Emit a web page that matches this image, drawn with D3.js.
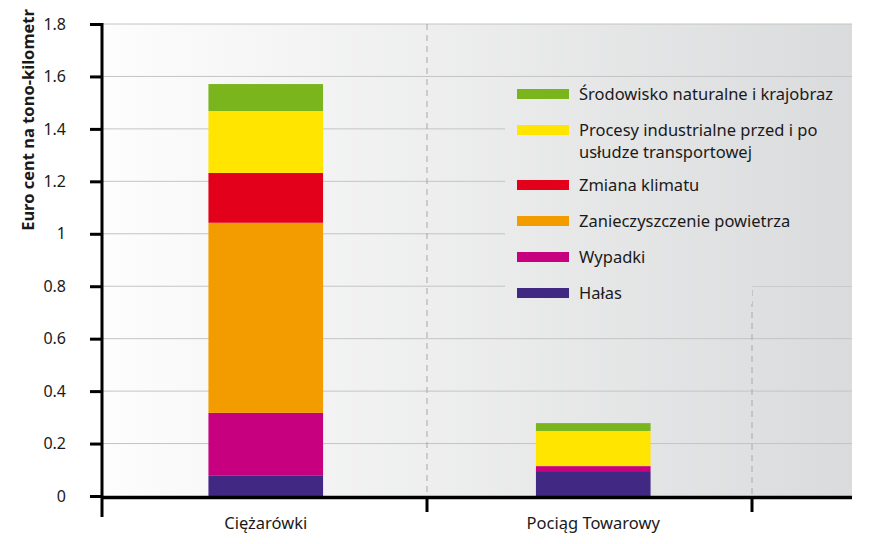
<!DOCTYPE html>
<html>
<head>
<meta charset="utf-8">
<script src="https://cdn.jsdelivr.net/npm/d3@7"></script>
<style>
  body { margin: 0; background: #fff; }
  text { font-family: "Noto Sans", sans-serif; fill: #1a1a1a; }
</style>
</head>
<body>
<svg id="chart" width="877" height="544"></svg>
<script>
// data
var categories = ["Ciężarówki", "Pociąg Towarowy"];
var series = ["Hałas", "Wypadki", "Zanieczyszczenie powietrza", "Zmiana klimatu",
              "Procesy industrialne przed i po usłudze transportowej",
              "Środowisko naturalne i krajobraz"];
var truckValues = [0.077, 0.240, 0.725, 0.190, 0.236, 0.103];
var trainValues = [0.095, 0.019, 0, 0, 0.134, 0.030];
var yTicks = [0, 0.2, 0.4, 0.6, 0.8, 1, 1.2, 1.4, 1.6, 1.8];
var colors = ["#412883", "#c6007e", "#f39c00", "#e2001a", "#ffe500", "#7ab51d"];

var legendRows = [
  {key: 5, lines: ["Środowisko naturalne i krajobraz"]},
  {key: 4, lines: ["Procesy industrialne przed i po", "usłudze transportowej"]},
  {key: 3, lines: ["Zmiana klimatu"]},
  {key: 2, lines: ["Zanieczyszczenie powietrza"]},
  {key: 1, lines: ["Wypadki"]},
  {key: 0, lines: ["Hałas"]}
];

var rows = categories.map(function(c, i) {
  var o = {cat: c};
  var vals = i == 0 ? truckValues : trainValues;
  series.forEach(function(s, j) { o[s] = vals[j]; });
  return o;
});

var svg = d3.select("#chart");
var pl = 102, pr = 852, pt = 24, pb = 496;

var y = d3.scaleLinear().domain([0, 1.8]).range([pb, pt]);
var x = d3.scaleBand().domain(categories).range([pl, 757]);
var barW = x.bandwidth() * 0.35;

// background gradient
var defs = svg.append("defs");
var grad = defs.append("linearGradient")
    .attr("id", "bg")
    .attr("gradientUnits", "userSpaceOnUse")
    .attr("x1", pl).attr("x2", pr).attr("y1", 0).attr("y2", 0);
grad.append("stop").attr("offset", 0).attr("stop-color", "#fdfdfd");
grad.append("stop").attr("offset", 1).attr("stop-color", "#dadbdc");

svg.append("rect")
    .attr("x", pl).attr("y", pt)
    .attr("width", pr - pl).attr("height", pb - pt)
    .attr("fill", "url(#bg)");

// gridlines
svg.append("g")
  .selectAll("line")
  .data(yTicks.slice(1))
  .enter().append("line")
    .attr("x1", pl).attr("x2", pr)
    .attr("y1", function(d) { return y(d); })
    .attr("y2", function(d) { return y(d); })
    .attr("stroke", "#c4c4c4")
    .attr("stroke-width", 1);

// dashed category separators
svg.append("line")
    .attr("x1", 427).attr("x2", 427)
    .attr("y1", pt).attr("y2", pb)
    .attr("stroke", "#a8a8a8").attr("stroke-dasharray", "6,5");
svg.append("line")
    .attr("x1", 752).attr("x2", 752)
    .attr("y1", 290).attr("y2", pb)
    .attr("stroke", "#a8a8a8").attr("stroke-dasharray", "6,5");

// legend box (covers gridlines)
svg.append("path")
    .attr("d", "M505,79H852V286H752V304H505Z")
    .attr("fill", "url(#bg)");

// stacked bars
var stack = d3.stack().keys(series);
var layers = stack(rows);
svg.append("g")
  .selectAll("g")
  .data(layers)
  .enter().append("g")
    .attr("fill", function(d, i) { return colors[i]; })
  .selectAll("rect")
  .data(function(d) { return d; })
  .enter().append("rect")
    .attr("x", function(d) { return x(d.data.cat) + (x.bandwidth() - barW) / 2; })
    .attr("y", function(d) { return y(d[1]); })
    .attr("width", barW)
    .attr("height", function(d) { return y(d[0]) - y(d[1]); });

// axes
var yAxis = d3.axisLeft(y).tickValues(yTicks).tickSize(12).tickPadding(24)
    .tickFormat(function(d) { return d3.format("")(d); });
var gy = svg.append("g").attr("transform", "translate(" + pl + ",0)").call(yAxis);
gy.select(".domain").remove();
gy.selectAll(".tick line").attr("stroke", "#000").attr("stroke-width", 3);
gy.selectAll(".tick text").attr("font-size", 16).attr("fill", "#1a1a1a")
    .attr("font-family", "Noto Sans");
svg.append("line")
    .attr("x1", pl).attr("x2", pl).attr("y1", pt - 1).attr("y2", 517)
    .attr("stroke", "#000").attr("stroke-width", 3);

svg.append("line")
    .attr("x1", pl).attr("x2", pr).attr("y1", pb + 1.5).attr("y2", pb + 1.5)
    .attr("stroke", "#000").attr("stroke-width", 3.5);
svg.append("g")
  .selectAll("line")
  .data([427, 752])
  .enter().append("line")
    .attr("x1", function(d) { return d; }).attr("x2", function(d) { return d; })
    .attr("y1", pb).attr("y2", 512)
    .attr("stroke", "#000").attr("stroke-width", 3);

svg.append("g")
  .selectAll("text")
  .data(categories)
  .enter().append("text")
    .attr("x", function(d) { return x(d) + x.bandwidth() / 2; })
    .attr("y", 529)
    .attr("text-anchor", "middle")
    .attr("font-size", 16.5)
    .text(function(d) { return d; });

svg.append("text")
    .attr("transform", "translate(34,120) rotate(-90)")
    .attr("text-anchor", "middle")
    .attr("font-size", 16.5)
    .attr("font-weight", "bold")
    .text("Euro cent na tono-kilometr");

// legend
var lg = svg.append("g");
var rowY = [94, 130, 185, 221, 257, 293];
legendRows.forEach(function(r, i) {
  lg.append("rect")
      .attr("x", 517).attr("y", rowY[i] - 5)
      .attr("width", 52).attr("height", 10)
      .attr("fill", colors[r.key]);
  r.lines.forEach(function(t, k) {
    lg.append("text")
        .attr("x", 579).attr("y", rowY[i] + 6 + k * 22)
        .attr("font-size", 16.5)
        .text(t);
  });
});
</script>
</body>
</html>
